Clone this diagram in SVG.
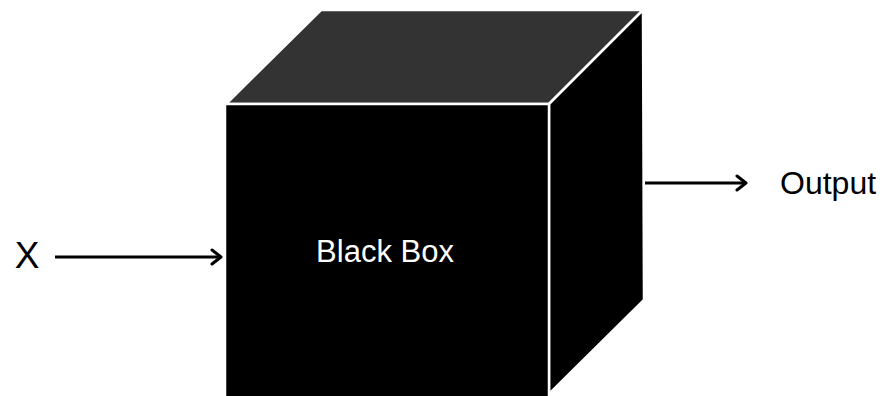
<svg xmlns="http://www.w3.org/2000/svg" width="883" height="396" viewBox="0 0 883 396">
<style>
.face{stroke:#fff;stroke-width:2.5;stroke-linejoin:miter}
.lbl{font-family:"Liberation Sans",Arial,sans-serif}
.conn{stroke:#000;stroke-width:3;fill:none}
</style>
<defs>
<marker id="arr" markerWidth="16" markerHeight="18" refX="12" refY="9" orient="auto" markerUnits="userSpaceOnUse">
<path d="M3,2 L12,9 L3,16" fill="none" stroke="#000" stroke-width="3" stroke-linecap="round" stroke-linejoin="round"/>
</marker>
</defs>
<rect width="883" height="396" fill="#fff"/>
<g id="blackbox">
<polygon class="face" points="226,104 321,10 643,10 549,104" fill="#333333"/>
<polygon class="face" points="549,104 643,10 644,300 549,394" fill="#000"/>
<rect class="face" x="225" y="104" width="324" height="294" fill="#000"/>
<text class="lbl" x="385" y="262" font-size="31" fill="#fff" text-anchor="middle">Black Box</text>
</g>
<g id="x-node">
<text class="lbl" x="27" y="268" font-size="37" fill="#000" text-anchor="middle">X</text>
</g>
<g id="output-node">
<text class="lbl" x="780" y="194" font-size="32" fill="#000">Output</text>
</g>
<g id="connectors">
<line class="conn" x1="55" y1="257" x2="221" y2="257" marker-end="url(#arr)"/>
<line class="conn" x1="645" y1="183" x2="746" y2="183" marker-end="url(#arr)"/>
</g>
</svg>
